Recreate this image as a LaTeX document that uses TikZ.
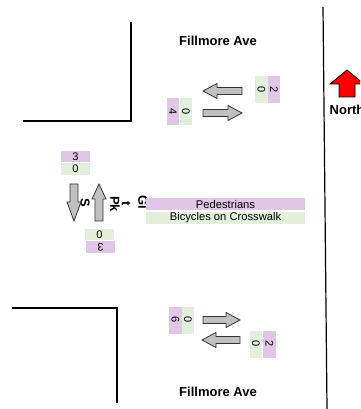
\documentclass[tikz,border=0pt]{standalone}
\usepackage{fontspec}
\setmainfont{Liberation Sans}
\usetikzlibrary{positioning}
\definecolor{PedPurple}{RGB}{225,198,231}
\definecolor{BikeGreen}{RGB}{226,239,218}
\definecolor{ArrowGray}{RGB}{192,192,192}
\definecolor{NorthRed}{RGB}{255,0,0}

\tikzset{
	curb/.style={line width=0.9pt},
	flowarrow/.style={fill=ArrowGray, draw=black!80, line width=0.6pt, line join=miter},
	northarrow/.style={fill=NorthRed, draw=black, line width=0.6pt, line join=miter},
	street/.style={font=\fontsize{9.75pt}{11pt}\selectfont\bfseries},
	sidelabel/.style={rotate=-90, inner sep=0pt, font=\fontsize{9.75pt}{11pt}\selectfont\bfseries},
	pedbox/.style={fill=PedPurple, inner sep=0pt, font=\fontsize{8.25pt}{9pt}\selectfont},
	bikebox/.style={fill=BikeGreen, inner sep=0pt, font=\fontsize{8.25pt}{9pt}\selectfont},
	tallbox/.style={rotate=-90, minimum width=20.25pt, minimum height=9.4pt},
	widebox/.style={minimum width=21.75pt, minimum height=8.4pt},
	legendbar/.style={minimum width=119.25pt, minimum height=9pt, inner sep=0pt, font=\fontsize{8.4pt}{9pt}\selectfont}
}

\begin{document}
\begin{tikzpicture}[x=0.75pt, y=-0.75pt]
	\useasboundingbox (0,0) rectangle (360,409);
	\clip (0,0) rectangle (360,409);
	% curbs
	\draw[curb] (131,22) -- (131,121) -- (23,121);
	\draw[curb] (12,308) -- (117,308) -- (117,403);
	\draw[curb] (323,7) -- (327,409);
	% street names
	\node[street] (topname) at (218,41) {Fillmore Ave};
	\node[street] (botname) at (218,392) {Fillmore Ave};
	\node[sidelabel] (sideS) at (85,203) {S};
	\node[sidelabel] (sidePk) at (115,204) {Pk};
	\node[sidelabel] (sideT) at (126,204) {t};
	\node[sidelabel] (sideGl) at (143,202) {Gl};
	% north
	\draw[northarrow, shift={(347,70)}] (0,0) -- (17,14) -- (8,14) -- (8,27) -- (-8,27) -- (-8,14) -- (-17,14) -- cycle;
	\node[street] (north) at (347,110) {North};
	% movements on Fillmore Ave
	\draw[flowarrow, shift={(203,91)}] (0,0) -- (14,-7.5) -- (14,-3.5) -- (39,-3.5) -- (39,3.5) -- (14,3.5) -- (14,7.5) -- cycle;
	\draw[flowarrow, shift={(203,113)}] (0,-3.5) -- (25,-3.5) -- (25,-7.5) -- (39,0) -- (25,7.5) -- (25,3.5) -- (0,3.5) -- cycle;
	\draw[flowarrow, shift={(203,320)}] (0,-3.5) -- (23,-3.5) -- (23,-7.5) -- (37,0) -- (23,7.5) -- (23,3.5) -- (0,3.5) -- cycle;
	\draw[flowarrow, shift={(202,340)}] (0,0) -- (14,-7.5) -- (14,-3.5) -- (38,-3.5) -- (38,3.5) -- (14,3.5) -- (14,7.5) -- cycle;
	% movements on the crossing
	\draw[flowarrow, shift={(74,184)}] (-4,0) -- (4,0) -- (4,18) -- (7,18) -- (0,37) -- (-7,18) -- (-4,18) -- cycle;
	\draw[flowarrow, shift={(99,184)}] (0,0) -- (7,15) -- (4,15) -- (4,37) -- (-4,37) -- (-4,15) -- (-7,15) -- cycle;
	% counts
	\node[bikebox, tallbox] (bikeNE) at (261.5,89.5) {0};
	\node[pedbox, tallbox] (pedNE) at (274,89.5) {2};
	\node[pedbox, tallbox] (pedNW) at (173,112) {4};
	\node[bikebox, tallbox] (bikeNW) at (186,112) {0};
	\node[pedbox, tallbox] (pedSW) at (175.5,320) {6};
	\node[bikebox, tallbox] (bikeSW) at (188,320) {0};
	\node[bikebox, tallbox] (bikeSE) at (256,344) {0};
	\node[pedbox, tallbox] (pedSE) at (269.5,344) {2};
	\node[pedbox, widebox] (pedN) at (75.5,156.5) {3};
	\node[bikebox, widebox] (bikeN) at (75.5,169) {0};
	\node[bikebox, widebox] (bikeS) at (99.5,234.5) {0};
	\node[pedbox, widebox, rotate=180] (pedS) at (100.5,247) {3};
	% legend
	\node[pedbox, legendbar] (legPed) at (225.5,204) {Pedestrians};
	\node[bikebox, legendbar, below=0.75pt of legPed] (legBike) {Bicycles on Crosswalk};
\end{tikzpicture}
\end{document}
